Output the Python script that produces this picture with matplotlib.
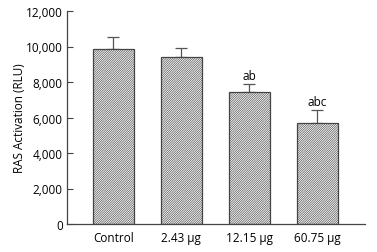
import matplotlib.pyplot as plt
import matplotlib as mpl

categories = ["Control", "2.43 μg", "12.15 μg", "60.75 μg"]
values = [9850, 9420, 7420, 5710]
errors = [680, 480, 470, 690]
labels = ["", "", "ab", "abc"]

plt.rcParams['font.family'] = ['Open Sans', 'DejaVu Sans']
mpl.rcParams['hatch.linewidth'] = 0.45
mpl.rcParams['hatch.color'] = '#808080'

fig = plt.figure(figsize=(3.77, 2.53), dpi=100)
ax = fig.add_axes([67 / 377, 28 / 253, 298 / 377, 213 / 253])

x = range(len(categories))
ax.bar(x, values, width=0.6, color="white", edgecolor="#444444",
       linewidth=0.9, hatch="/" * 15, zorder=2)
ax.errorbar(x, values, yerr=[[0] * 4, errors], fmt="none", ecolor="#555555",
            elinewidth=0.9, capsize=4, capthick=0.9, zorder=1)
for xi, v, e, t in zip(x, values, errors, labels):
    if t:
        ax.text(xi, v + e + 120, t, ha="center", va="bottom", fontsize=8.5)

ax.set_xlim(-0.68, 3.7)
ax.set_ylim(0, 12000)
ax.set_yticks(range(0, 12001, 2000))
ax.set_yticklabels([f"{v:,}" for v in range(0, 12001, 2000)])
ax.set_xticks(list(x))
ax.set_xticklabels(categories)
ax.tick_params(axis="y", direction="in", length=4, width=0.8, color="#444444",
               labelsize=8.5, pad=3)
ax.tick_params(axis="x", length=0, labelsize=8.5, pad=5)
ax.set_ylabel("RAS Activation (RLU)", fontsize=8.5, labelpad=0)
for s in ["top", "right"]:
    ax.spines[s].set_visible(False)
for s in ["left", "bottom"]:
    ax.spines[s].set_color("#444444")
    ax.spines[s].set_linewidth(0.9)

fig.savefig("out.png", dpi=100)
